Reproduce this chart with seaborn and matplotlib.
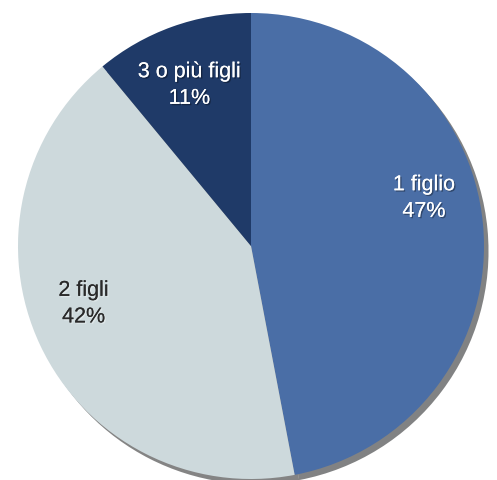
import matplotlib
matplotlib.use('Agg')
import matplotlib.pyplot as plt
import matplotlib.patheffects as pe
import seaborn as sns
import numpy as np

# Stile
sns.set_theme(style='white')
plt.rcParams['font.family'] = ['Liberation Sans', 'DejaVu Sans']

# ========================================
# Dati
# ========================================
categorie = ['1 figlio', '2 figli', '3 o più figli']
percentuali = [47, 42, 11]
colori = ['#4a6ea6', '#cdd9dc', '#1f3a68']
colori_testo = ['white', '#2a2a2a', 'white']

# posizione delle etichette (angolo in gradi, distanza dal centro)
angoli_etichette = [15.5, -161, 111]
dist_etichette = [0.77, 0.76, 0.74]

W, H = 497, 480
fig = plt.figure(figsize=(W / 100, H / 100), dpi=100)
cx, cy, r = 251, 480 - 246, 233
ax = fig.add_axes([(cx - r) / W, (cy - r) / H, 2 * r / W, 2 * r / H])

wedges, _ = ax.pie(percentuali, colors=colori, startangle=90, counterclock=False,
                   radius=1, wedgeprops={'linewidth': 0},
                   shadow={'ox': 0.014, 'oy': -0.016, 'shade': 0.95})

for cat, p, col, ang, d in zip(categorie, percentuali, colori_testo, angoli_etichette, dist_etichette):
    x = d * np.cos(np.radians(ang))
    y = d * np.sin(np.radians(ang))
    ombra = 'black' if col == 'white' else 'white'
    ax.text(x, y, f'{cat}\n{p}%', ha='center', va='center', color=col,
            fontsize=15.5, linespacing=1.35,
            path_effects=[pe.withSimplePatchShadow(offset=(1, -1), shadow_rgbFace=ombra, alpha=0.35),
                          pe.Normal()])

ax.set_xlim(-1, 1)
ax.set_ylim(-1, 1)
ax.set_aspect('equal')
ax.axis('off')

plt.savefig('out.png', dpi=100, facecolor='white')
plt.close()
